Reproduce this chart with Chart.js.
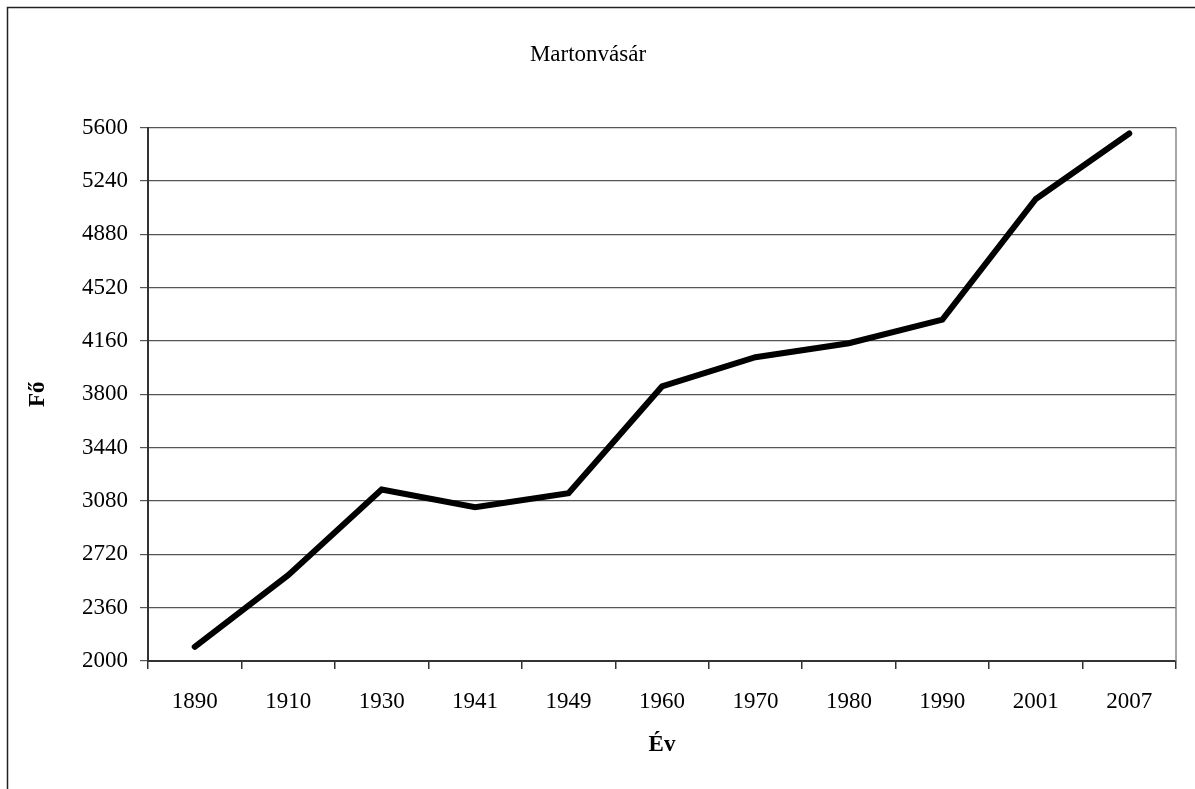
<!DOCTYPE html>
<html>
<head>
<meta charset="utf-8">
<script src="https://cdn.jsdelivr.net/npm/chart.js@4.4.0/dist/chart.umd.min.js"></script>
<style>
  html, body { margin: 0; padding: 0; background: #fff; }
  #wrap { position: relative; width: 1195px; height: 789px; }
</style>
</head>
<body>
<div id="wrap"><canvas id="c" width="1195" height="789"></canvas></div>
<script>
const titleText = 'Martonvásár';
const xTitle = 'Év';
const yTitle = 'Fő';
const categories = ['1890', '1910', '1930', '1941', '1949', '1960', '1970', '1980', '1990', '2001', '2007'];
const population = [2096, 2579, 3157, 3038, 3132, 3853, 4050, 4145, 4304, 5118, 5560];
const yMin = 2000, yMax = 5600, yStep = 360;

const FONT = "'Liberation Serif', 'Times New Roman', serif";

const framePlugin = {
  id: 'frame',
  afterDraw(chart) {
    const ctx = chart.ctx;
    const a = chart.chartArea;
    ctx.save();
    ctx.strokeStyle = '#222';
    ctx.lineWidth = 1.5;
    ctx.beginPath();
    ctx.moveTo(7.5, 789);
    ctx.lineTo(7.5, 7.5);
    ctx.lineTo(1195, 7.5);
    ctx.stroke();
    ctx.strokeStyle = '#888';
    ctx.lineWidth = 1.5;
    ctx.beginPath();
    ctx.moveTo(a.right, a.top);
    ctx.lineTo(a.right, a.bottom);
    ctx.stroke();
    ctx.restore();
  }
};

new Chart(document.getElementById('c'), {
  type: 'line',
  data: {
    labels: categories,
    datasets: [{
      data: population,
      borderColor: '#000',
      borderWidth: 6,
      pointRadius: 0,
      pointHoverRadius: 0,
      tension: 0,
      borderCapStyle: 'round',
      borderJoinStyle: 'miter',
      fill: false
    }]
  },
  options: {
    responsive: false,
    animation: false,
    events: [],
    layout: { padding: { left: 0, right: 19, top: 0, bottom: 0 } },
    plugins: {
      legend: { display: false },
      tooltip: { enabled: false },
      title: {
        display: true,
        text: titleText,
        color: '#000',
        font: { family: FONT, size: 23, weight: 'normal' },
        padding: { top: 41, bottom: 59 }
      }
    },
    scales: {
      x: {
        offset: true,
        grid: {
          offset: true,
          drawOnChartArea: false,
          drawTicks: true,
          tickLength: 8,
          color: '#333',
          lineWidth: 1.5
        },
        border: { display: true, color: '#333', width: 2 },
        ticks: {
          color: '#000',
          font: { family: FONT, size: 23 },
          padding: 19,
          maxRotation: 0,
          autoSkip: false
        },
        title: {
          display: true,
          text: xTitle,
          color: '#000',
          font: { family: FONT, size: 23, weight: 'bold' },
          padding: { top: 14, bottom: 30 }
        },
        afterFit(scale) { scale.height = 128; }
      },
      y: {
        min: yMin,
        max: yMax,
        grid: {
          color: '#555',
          lineWidth: 1.2,
          tickLength: 8,
          drawTicks: true
        },
        border: { display: true, color: '#333', width: 2 },
        ticks: {
          stepSize: yStep,
          color: '#000',
          font: { family: FONT, size: 23 },
          padding: 12,
          callback: (v) => String(v)
        },
        title: {
          display: true,
          text: yTitle,
          color: '#000',
          font: { family: FONT, size: 23, weight: 'bold' },
          padding: { top: 24, bottom: 0 }
        },
        afterFit(scale) { scale.width = 148; }
      }
    }
  },
  plugins: [framePlugin]
});
</script>
</body>
</html>
